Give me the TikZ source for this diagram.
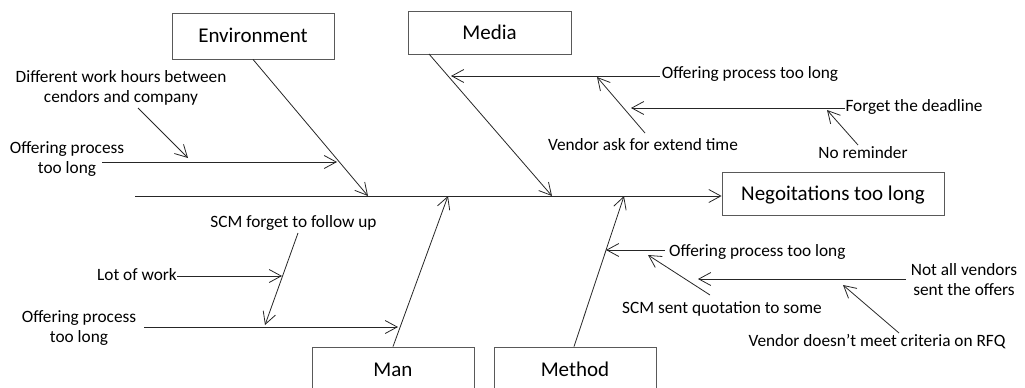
\documentclass[tikz,border=0pt]{standalone}
\usepackage{fontspec}
\setmainfont{Carlito}
\usetikzlibrary{arrows.meta}
\begin{document}
\begin{tikzpicture}[x=1pt,y=-1pt,
  cause/.style={draw=black!65, line width=0.8pt, inner sep=0pt,
    text height=16pt, text depth=2.4pt,
    font=\fontsize{21}{25}\selectfont},
  lbl/.style={inner sep=0pt, align=center,
    font=\fontsize{17.3}{20.5}\selectfont},
  arr/.style={draw=black!85, line width=0.8pt,
    -{Straight Barb[length=12pt,width=13pt,line width=0.8pt]}},
]
\useasboundingbox (0,0) rectangle (1025,388);
\clip (0,0) rectangle (1025,388);

% category boxes and the effect
\node[cause, minimum width=162pt, minimum height=46pt] (env)    at (253,36)    {Environment};
\node[cause, minimum width=163pt, minimum height=43pt] (media)  at (489.5,32.5) {Media};
\node[cause, minimum width=222pt, minimum height=43pt] (neg)    at (833,193.5) {Negoitations too long};
\node[cause, minimum width=162pt, minimum height=46pt] (man)    at (393,370)   {Man};
\node[cause, minimum width=162pt, minimum height=46pt] (method) at (575,370)   {Method};

% spine
\coordinate (tail) at (135,196);
\draw[arr] (tail) -- (tail -| neg.west);

% main bones
\coordinate (envTip)    at (368,196);
\coordinate (mediaFoot) at (429,54);
\coordinate (mediaTip)  at (552,196);
\coordinate (manTip)    at (448,196);
\coordinate (methTip)   at (624,196);
\draw[arr] (env.south) -- (envTip);
\draw[arr] (mediaFoot) -- (mediaTip);
\draw[arr] (man.north) -- (manTip);
\draw[arr] ([xshift=-1pt]method.north) -- (methTip);

% Environment causes
\node[lbl] (diffHours) at (121,88)  {Different work hours between\\cendors and company};
\node[lbl] (envOffer)  at (67,159)  {Offering process\\too long};
\coordinate (envOfferA) at (102,162);
\coordinate (envOfferB) at (337,162);
\coordinate (diffA) at (138,108);
\coordinate (diffB) at (188,158);
\draw[arr] (envOfferA) -- (envOfferB);
\draw[arr] (diffA) -- (diffB);

% Media causes
\node[lbl] (mediaOffer) at (750,74)  {Offering process too long};
\node[lbl] (forget)     at (914,107) {Forget the deadline};
\node[lbl] (extend)     at (643,145) {Vendor ask for extend time};
\node[lbl] (noRem)      at (863,153) {No reminder};
\coordinate (mOfferA) at (660,76);
\coordinate (mOfferB) at (451,76);
\coordinate (forgetA) at (845,108);
\coordinate (forgetB) at (631,108);
\coordinate (extendA) at (645,133);
\coordinate (extendB) at (597,77);
\coordinate (noRemA)  at (858,145);
\coordinate (noRemB)  at (827,110);
\draw[arr] (mOfferA) -- (mOfferB);
\draw[arr] (forgetA) -- (forgetB);
\draw[arr] (extendA) -- (extendB);
\draw[arr] (noRemA) -- (noRemB);

% Man causes
\node[lbl] (scmForget) at (293.5,223) {SCM forget to follow up};
\node[lbl, anchor=east] (lotWork) at (177,275) {Lot of work};
\node[lbl] (manOffer) at (79,328) {Offering process\\too long};
\coordinate (scmA)   at (298,233);
\coordinate (scmB)   at (265,325);
\coordinate (lotB)   at (282,276);
\coordinate (manOfA) at (144,327);
\coordinate (manOfB) at (398,327);
\draw[arr] (scmA) -- (scmB);
\draw[arr] (lotWork.east |- lotB) -- (lotB);
\draw[arr] (manOfA) -- (manOfB);

% Method causes
\node[lbl, anchor=west] (methOffer) at (669,252) {Offering process too long};
\node[lbl] (scmSent)    at (722,309)   {SCM sent quotation to some};
\node[lbl] (notAll)     at (964,279.5) {Not all vendors\\sent the offers};
\node[lbl] (vendorCrit) at (877,342)   {Vendor doesn’t meet criteria on RFQ};
\coordinate (mtOfA)   at (665,250);
\coordinate (mtOfB)   at (606,250);
\coordinate (sentA)   at (710,295);
\coordinate (sentB)   at (648,255);
\coordinate (notAllA) at (906,279);
\coordinate (notAllB) at (698,279);
\coordinate (critA)   at (899,333);
\coordinate (critB)   at (843,285);
\draw[arr] (mtOfA) -- (mtOfB);
\draw[arr] (sentA) -- (sentB);
\draw[arr] (notAllA) -- (notAllB);
\draw[arr] (critA) -- (critB);
\end{tikzpicture}
\end{document}
